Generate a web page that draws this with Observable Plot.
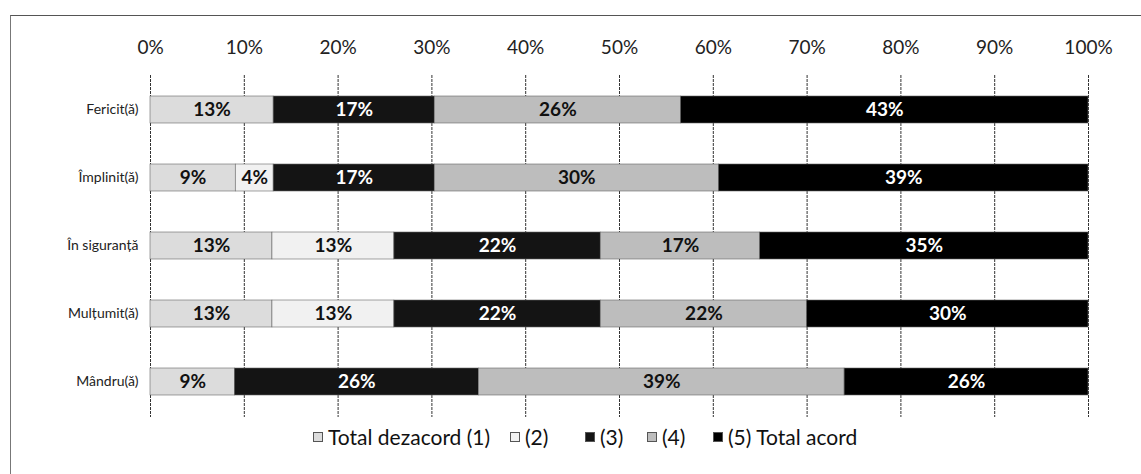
<!DOCTYPE html>
<html>
<head>
<meta charset="utf-8">
<script src="https://cdn.jsdelivr.net/npm/d3@7"></script>
<script src="https://cdn.jsdelivr.net/npm/@observablehq/plot@0.6"></script>
<style>
  html, body { margin: 0; padding: 0; background: #fff; }
  body { width: 1141px; height: 474px; overflow: hidden; position: relative; font-family: Lato, "Open Sans", sans-serif; }
  #frame { position: absolute; left: 10px; top: 15px; width: 1131px; height: 459px; border-top: 1.5px solid #555; border-left: 1.5px solid #777; box-sizing: border-box; }
  #chart { position: absolute; left: 0; top: 0; }
  #legend { position: absolute; top: 424px; left: 0; width: 1141px; height: 30px; font-size: 21px; color: #111; white-space: nowrap; }
  #legend span.item { position: absolute; top: 0; display: inline-flex; align-items: center; gap: 5px; }
  #legend span.sw { display: inline-block; width: 10px; height: 10px; border: 1px solid #555; box-sizing: border-box; }
</style>
</head>
<body>
<div id="frame"></div>
<div id="chart"></div>
<div id="legend"></div>
<script>
const categories = ["Fericit(ă)", "Împlinit(ă)", "În siguranță", "Mulțumit(ă)", "Mândru(ă)"];
const series = ["Total dezacord (1)", "(2)", "(3)", "(4)", "(5) Total acord"];
const s1 = [13, 9, 13, 13, 9];
const s2 = [0, 4, 13, 13, 0];
const s3 = [17, 17, 22, 22, 26];
const s4 = [26, 30, 17, 22, 39];
const s5 = [43, 39, 35, 30, 26];
const ticks = [0, 0.1, 0.2, 0.3, 0.4, 0.5, 0.6, 0.7, 0.8, 0.9, 1];
const fills = ["#dcdcdc", "#f1f1f1", "#141414", "#bdbdbd", "#000000"];
const textFills = ["#111", "#111", "#fff", "#111", "#fff"];
const legendLeft = [313, 510, 585, 647, 713];

const cols = [s1, s2, s3, s4, s5];
const data = [];
series.forEach((s, j) => categories.forEach((c, i) => data.push({cat: c, series: s, value: cols[j][i]})));

const chart = Plot.plot({
  width: 1141,
  height: 427,
  marginTop: 75,
  marginBottom: 10,
  marginLeft: 150,
  marginRight: 53,
  style: {fontFamily: "Lato, 'Open Sans', sans-serif", background: "transparent"},
  x: {domain: [0, 1], axis: "top", ticks: ticks, tickFormat: d => Math.round(d * 100) + "%", tickSize: 0, tickPadding: 22, label: null},
  y: {domain: categories, paddingInner: 0.6, paddingOuter: 0.3, tickSize: 0, tickPadding: 12, label: null},
  color: {domain: series, range: fills},
  marks: [
    Plot.ruleX(ticks, {stroke: "#333", strokeWidth: 1, strokeDasharray: "3,1"}),
    Plot.barX(data, Plot.stackX({x: "value", y: "cat", fill: "series", z: "series", offset: "normalize", order: series, stroke: "#666", strokeWidth: 0.6})),
    Plot.text(data, Plot.stackX({x: "value", y: "cat", z: "series", offset: "normalize", order: series,
      text: d => d.value ? d.value + "%" : null,
      fill: d => textFills[series.indexOf(d.series)],
      fontSize: 19, fontWeight: "bold"}))
  ]
});
chart.querySelectorAll("[aria-label='x-axis tick label']").forEach(g => { g.setAttribute("font-size", "19"); g.setAttribute("fill", "#222"); });
chart.querySelectorAll("[aria-label='y-axis tick label']").forEach(g => { g.setAttribute("font-size", "14"); g.setAttribute("fill", "#222"); });
document.getElementById("chart").appendChild(chart);

const legend = document.getElementById("legend");
series.forEach((s, j) => {
  const it = document.createElement("span");
  it.className = "item";
  it.style.left = legendLeft[j] + "px";
  const sw = document.createElement("span");
  sw.className = "sw";
  sw.style.background = fills[j];
  it.appendChild(sw);
  it.appendChild(document.createTextNode(s));
  legend.appendChild(it);
});
</script>
</body>
</html>
